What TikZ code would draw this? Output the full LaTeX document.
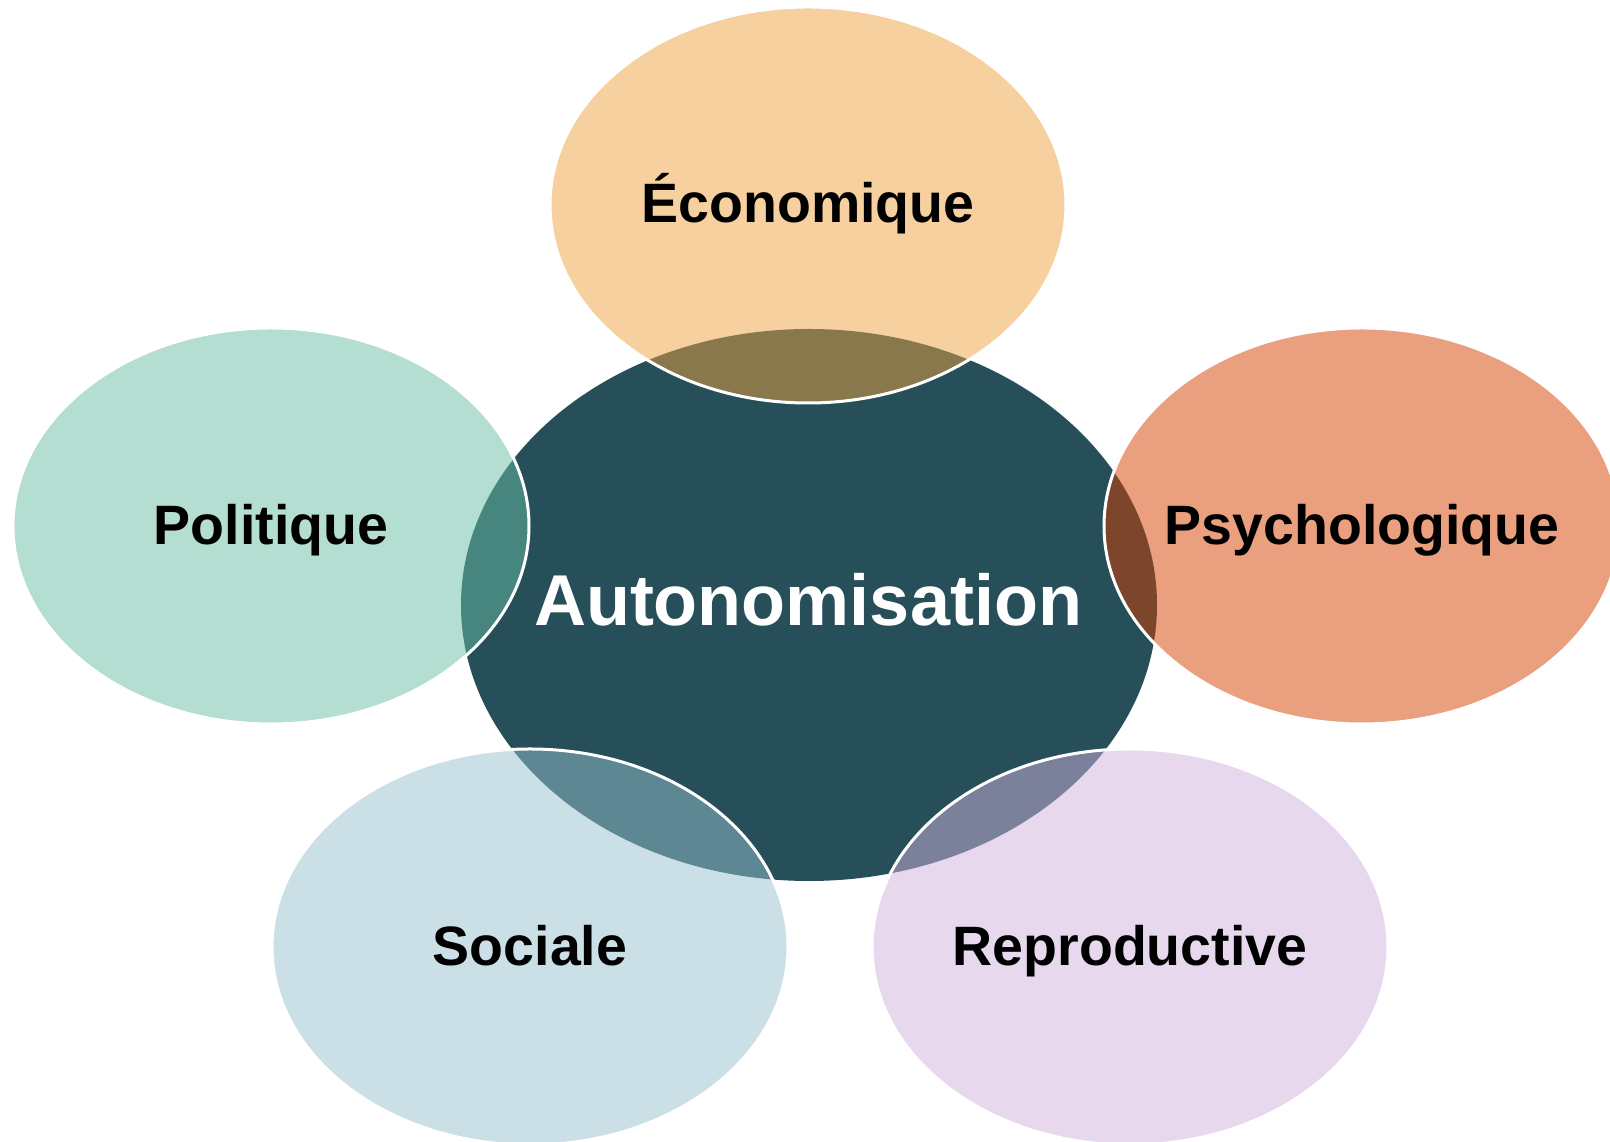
\documentclass[tikz,border=0pt]{standalone}
\usepackage{fontspec}
\setmainfont{Liberation Sans}
\definecolor{centerc}{RGB}{38,79,90}
\definecolor{ecoc}{RGB}{239,161,65}
\definecolor{polc}{RGB}{103,189,163}
\definecolor{psyc}{RGB}{213,63,0}
\definecolor{socc}{RGB}{149,193,205}
\definecolor{repc}{RGB}{209,177,221}
\begin{document}
\begin{tikzpicture}[x=1pt,y=1pt,
  outer/.style={fill opacity=0.5, draw opacity=1, draw=white, line width=3pt},
  lbl/.style={anchor=base, inner sep=0pt, font=\bfseries\fontsize{55.5}{60}\selectfont, text=black},
  mainlbl/.style={anchor=base, inner sep=0pt, font=\bfseries\fontsize{72}{80}\selectfont, text=white}]
\useasboundingbox (0,0) rectangle (1610,1142);
\clip (0,0) rectangle (1610,1142);
% center
\fill[centerc] (809,537) ellipse [x radius=348, y radius=276];
% outer ellipses
\path[outer, fill=ecoc] (808,937) ellipse [x radius=258, y radius=198];
\path[outer, fill=polc] (271,616) ellipse [x radius=258, y radius=198];
\path[outer, fill=psyc] (1362,616) ellipse [x radius=258, y radius=198];
\path[outer, fill=socc] (530,195) ellipse [x radius=258, y radius=198];
\path[outer, fill=repc] (1130,195) ellipse [x radius=258, y radius=198];
% labels
\node[mainlbl] (auto) at (808,516) {Autonomisation};
\node[lbl] (eco) at (808,919) {Économique};
\node[lbl] (pol) at (271,597) {Politique};
\node[lbl] (psy) at (1362,597) {Psychologique};
\node[lbl] (soc) at (530,176) {Sociale};
\node[lbl] (rep) at (1130,176) {Reproductive};
\end{tikzpicture}
\end{document}
